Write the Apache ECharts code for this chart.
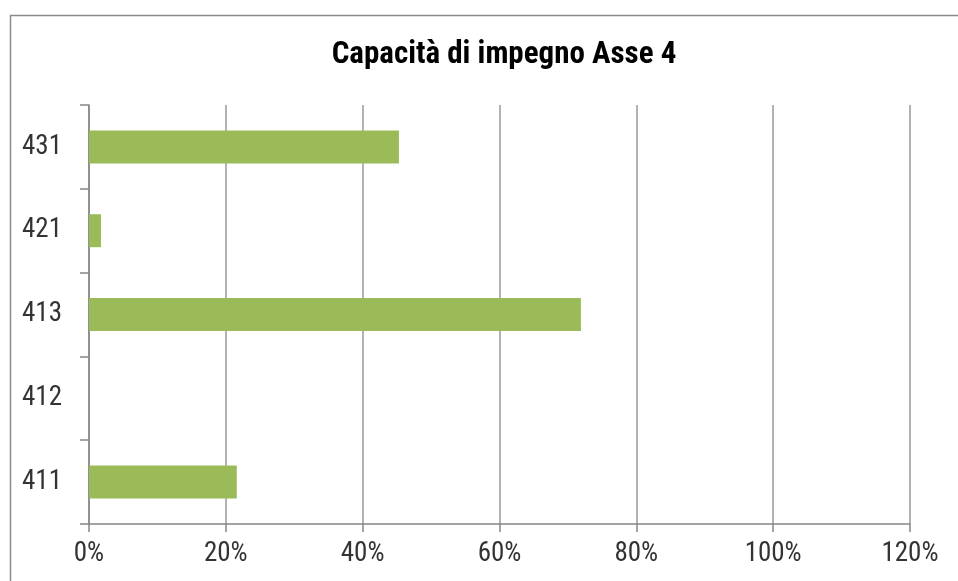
<!DOCTYPE html>
<html>
<head>
<meta charset="utf-8">
<script src="https://cdn.jsdelivr.net/npm/echarts@6/dist/echarts.min.js"></script>
<style>html,body{margin:0;padding:0;background:#fff}#c{width:958px;height:581px}</style>
</head>
<body>
<div id="c"></div>
<script>
var categories = ['411', '412', '413', '421', '431'];
var values = [21.6, 0, 71.9, 1.75, 45.3];
var xTicks = [0, 20, 40, 60, 80, 100, 120];

var FONT = '"Liberation Sans Narrow", "Arial Narrow", "Roboto Condensed", sans-serif';
var chart = echarts.init(document.getElementById('c'));
chart.setOption({
  animation: false,
  backgroundColor: '#fff',
  graphic: [{
    type: 'rect', left: 8, top: 13,
    shape: { width: 1000, height: 1000 },
    style: { fill: 'none', stroke: '#8c8c8c', lineWidth: 1.5 }
  }],
  title: {
    text: 'Capacità di impegno Asse 4',
    left: 499, top: 35, textAlign: 'center',
    textStyle: { fontFamily: FONT, fontSize: 31, fontWeight: 'bold', color: '#000' }
  },
  grid: { left: 89, right: 48, top: 105, bottom: 57 },
  xAxis: {
    type: 'value', min: xTicks[0], max: xTicks[xTicks.length - 1], interval: 20,
    axisLine: { show: true, lineStyle: { color: '#868686', width: 1.5 } },
    axisTick: { show: true, length: 8, lineStyle: { color: '#868686', width: 1.5 } },
    splitLine: { show: true, lineStyle: { color: '#9a9a9a', width: 1.5 } },
    axisLabel: { formatter: '{value}%', margin: 17, fontFamily: FONT, fontSize: 27, color: '#333' }
  },
  yAxis: {
    type: 'category', data: categories,
    axisLine: { show: true, lineStyle: { color: '#868686', width: 1.5 } },
    axisTick: { show: true, length: 9, lineStyle: { color: '#868686', width: 1.5 } },
    axisLabel: { margin: 27, fontFamily: FONT, fontSize: 27, color: '#333' }
  },
  series: [{
    type: 'bar', data: values, barWidth: 33,
    itemStyle: { color: '#9bbb59' }
  }]
});
</script>
</body>
</html>
